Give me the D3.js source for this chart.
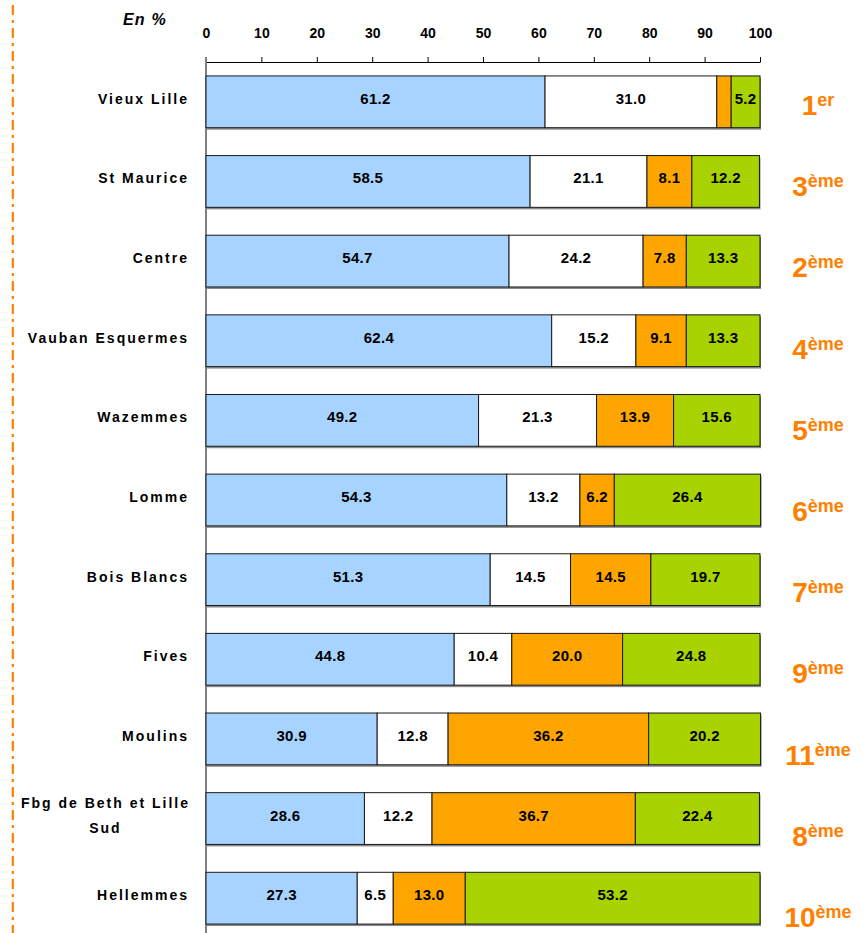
<!DOCTYPE html>
<html>
<head>
<meta charset="utf-8">
<script src="https://cdn.jsdelivr.net/npm/d3@7"></script>
<style>
body { margin: 0; background: #fff; }
svg { display: block; font-family: "Liberation Sans", Arial, sans-serif; }
.tick text { font-size: 14px; font-weight: bold; fill: #000; }
</style>
</head>
<body>
<div id="chart"></div>
<script>
// quartiers (the "\n" keeps the two-line label)
var categories = ["Vieux Lille", "St Maurice", "Centre", "Vauban Esquermes", "Wazemmes",
    "Lomme", "Bois Blancs", "Fives", "Moulins", "Fbg de Beth et Lille\nSud", "Hellemmes"];

// values in %, one array per series (left to right)
var blueVals   = [61.2, 58.5, 54.7, 62.4, 49.2, 54.3, 51.3, 44.8, 30.9, 28.6, 27.3];
var whiteVals  = [31.0, 21.1, 24.2, 15.2, 21.3, 13.2, 14.5, 10.4, 12.8, 12.2, 6.5];
var orangeVals = [2.6, 8.1, 7.8, 9.1, 13.9, 6.2, 14.5, 20.0, 36.2, 36.7, 13.0];
var greenVals  = [5.2, 12.2, 13.3, 13.3, 15.6, 26.4, 19.7, 24.8, 20.2, 22.4, 53.2];

// rank shown on the right
var rankNum    = ["1", "3", "2", "4", "5", "6", "7", "9", "11", "8", "10"];
var rankSuffix = ["er", "ème", "ème", "ème", "ème", "ème", "ème", "ème", "ème", "ème", "ème"];

var xTicks = d3.range(0, 101, 10);

var seriesKeys = ["blue", "white", "orange", "green"];
var colors = {blue: "#a6d3ff", white: "#ffffff", orange: "#ffa500", green: "#a8d200"};
var rankColor = "#ff8000";

var width = 865, height = 933;

var rows = categories.map(function(c, i) {
    return {cat: c, blue: blueVals[i], white: whiteVals[i], orange: orangeVals[i], green: greenVals[i],
            num: rankNum[i], suf: rankSuffix[i]};
});

var svg = d3.select("#chart").append("svg")
    .attr("width", width)
    .attr("height", height);

var x = d3.scaleLinear().domain([0, 100]).range([206, 760]);
var y = d3.scaleBand().domain(categories).range([62, 938])
    .paddingInner(0.35).paddingOuter(0.175);
var yRank = d3.scalePoint().domain(categories).range([115, 927]);

// dashed orange separator on the far left
svg.append("line")
    .attr("x1", 12.8).attr("x2", 12.8)
    .attr("y1", 5).attr("y2", height)
    .attr("stroke", rankColor)
    .attr("stroke-width", 2.2)
    .attr("stroke-dasharray", "10,5,3,5");

// "En %"
svg.append("text")
    .attr("x", 123).attr("y", 25)
    .attr("font-size", 16).attr("font-weight", "bold").attr("font-style", "italic")
    .attr("letter-spacing", 1.2)
    .text("En %");

// top axis
var xAxis = d3.axisTop(x).tickValues(xTicks).tickSize(5).tickSizeOuter(0).tickPadding(19);
var gx = svg.append("g")
    .attr("transform", "translate(0,62)")
    .call(xAxis);
gx.select(".domain").attr("stroke", "#000").attr("stroke-width", 1.2);
gx.selectAll(".tick line").attr("stroke", "#000");

// vertical axis line
svg.append("line")
    .attr("x1", x(0)).attr("x2", x(0))
    .attr("y1", 57).attr("y2", height)
    .attr("stroke", "#808080")
    .attr("stroke-width", 2);

var stacked = d3.stack().keys(seriesKeys)(rows);

// shadow under each bar
svg.append("g").selectAll("rect")
    .data(rows)
    .enter().append("rect")
    .attr("x", x(0) + 1)
    .attr("y", function(d) { return y(d.cat) + 2; })
    .attr("width", function(d) { return x(d.blue + d.white + d.orange + d.green) - x(0); })
    .attr("height", y.bandwidth())
    .attr("fill", "#8a8a8a");

var layers = svg.append("g").selectAll("g")
    .data(stacked)
    .enter().append("g")
    .attr("fill", function(s) { return colors[s.key]; });

layers.selectAll("rect")
    .data(function(s) { return s; })
    .enter().append("rect")
    .attr("x", function(d) { return x(d[0]); })
    .attr("y", function(d) { return y(d.data.cat); })
    .attr("width", function(d) { return x(d[1]) - x(d[0]); })
    .attr("height", y.bandwidth())
    .attr("stroke", "#1a1a1a")
    .attr("stroke-width", 1);

// value labels (the tiny orange piece of Vieux Lille has none)
layers.selectAll("text")
    .data(function(s) { return s.filter(function(d) { return d[1] - d[0] >= 3; }); })
    .enter().append("text")
    .attr("x", function(d) { return (x(d[0]) + x(d[1])) / 2; })
    .attr("y", function(d) { return y(d.data.cat) + y.bandwidth() / 2 + 2; })
    .attr("text-anchor", "middle")
    .attr("font-size", 15).attr("font-weight", "bold")
    .attr("letter-spacing", 0.3)
    .attr("fill", "#000")
    .text(function(d) { return d3.format(".1f")(d[1] - d[0]); });

// category labels
var catLabels = svg.append("g").selectAll("text")
    .data(rows)
    .enter().append("text")
    .attr("font-size", 14).attr("font-weight", "bold")
    .attr("letter-spacing", 2)
    .attr("fill", "#000");

catLabels.each(function(d) {
    var t = d3.select(this);
    var lines = d.cat.split("\n");
    var cy = y(d.cat) + y.bandwidth() / 2;
    if (lines.length == 1) {
        t.attr("x", 189).attr("y", cy + 2).attr("text-anchor", "end").text(d.cat);
    } else {
        var spans = t.selectAll("tspan").data(lines).enter().append("tspan")
            .text(function(l) { return l; });
        var maxW = 0;
        spans.each(function() { maxW = Math.max(maxW, this.getComputedTextLength()); });
        var mid = 189 - maxW / 2 + 1;
        t.attr("text-anchor", "middle");
        spans.attr("x", mid)
            .attr("y", function(l, i) { return cy - 11 + i * 25; });
    }
});

// ranks on the right
var rk = svg.append("g").selectAll("text")
    .data(rows)
    .enter().append("text")
    .attr("x", 818)
    .attr("y", function(d) { return yRank(d.cat); })
    .attr("text-anchor", "middle")
    .attr("font-weight", "bold")
    .attr("fill", rankColor);
rk.append("tspan").attr("font-size", 28).text(function(d) { return d.num; });
rk.append("tspan").attr("font-size", 18).attr("dy", -9).text(function(d) { return d.suf; });
</script>
</body>
</html>
